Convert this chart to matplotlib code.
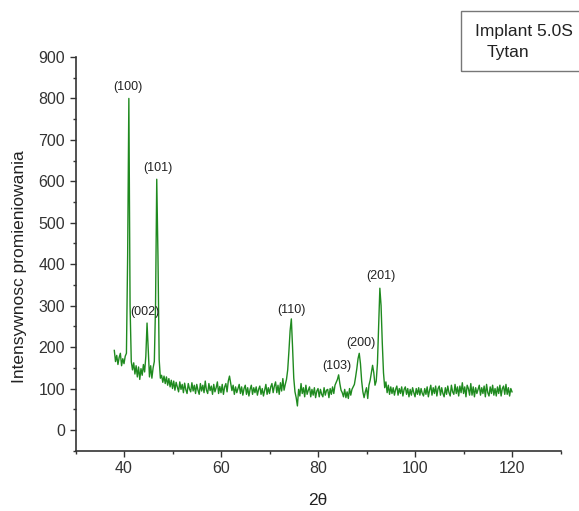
import numpy as np
import matplotlib
matplotlib.use("Agg")
import matplotlib.pyplot as plt
from matplotlib.patches import Rectangle
from matplotlib.ticker import MultipleLocator

plt.rcParams['font.family'] = ['Liberation Sans', 'DejaVu Sans']

# 2-theta sampling grid (degrees) and read-off intensities
two_theta_start = 38.0
two_theta_step = 0.25
intensity = [
    192, 165, 180, 158,  175, 185, 155, 172,  160, 178, 185, 420,
    800, 300, 165, 145,  162, 135, 155, 128,  152, 122, 148, 132,
    158, 140, 178, 258,  195, 128, 155, 125,  150, 165, 300, 605,
    420, 170, 125, 132,  115, 130, 112, 128,  108, 124, 104, 120,
    100, 118, 96, 115,   104, 92, 116, 98,    110, 90, 113, 97,
    88, 112, 99, 92,     114, 94, 108, 88,    110, 96, 86, 112,
    94, 108, 90, 118,    96, 88, 112, 95,     106, 86, 110, 92,
    102, 116, 88, 105,   90, 110, 86, 104,   112, 92, 118, 130,
    112, 95, 108, 86,    104, 90, 100, 110,   88, 104, 84, 100,
    108, 86, 102, 82,    98, 108, 86, 102,   90, 104, 84, 98,
    106, 86, 100, 82,    96, 110, 86, 102,   88, 104, 112, 90,
    106, 116, 90, 108,   86, 114, 94, 124,   96, 110, 122, 145,
    190, 240, 268, 200,  125, 92, 78, 58,     98, 82, 112, 88,
    102, 80, 108, 86,    96, 104, 80, 98,    84, 102, 78, 94,
    100, 80, 98, 86,     80, 102, 84, 96,    98, 78, 100, 86,
    104, 88, 108, 115,   122, 133, 112, 96,  90, 80, 98, 78,
    92, 76, 100, 84,     98, 104, 110, 128,  148, 172, 185, 160,
    118, 92, 78, 92,     102, 76, 108, 120,  138, 156, 138, 108,
    118, 160, 250, 342,  300, 210, 138, 102, 116, 90, 108, 86,
    104, 88, 102, 84,    98, 106, 84, 100,   88, 104, 82, 98,
    104, 86, 100, 80,    98, 84, 102, 90,    80, 100, 86, 102,
    84, 100, 88, 82,     100, 86, 104, 80,   96, 108, 84, 102,
    88, 106, 82, 100,    106, 84, 102, 88,   80, 102, 86, 106,
    90, 82, 108, 92,     86, 110, 88, 104,   82, 106, 90, 114,
    88, 104, 80, 108,    100, 84, 112, 84,   104, 80, 102, 88,
    98, 108, 84, 102,    88, 106, 80, 110,   90, 82, 104, 88,
    108, 84, 100, 82,    104, 88, 108, 82,   100, 106, 86, 110,
    86, 102, 82, 100,    92,
]
two_theta = two_theta_start + two_theta_step * np.arange(len(intensity))

# peak annotations (label centres)
peak_labels = ["(100)", "(101)", "(002)", "(110)", "(103)", "(200)", "(201)"]
peak_x = [40.8, 46.9, 44.4, 74.6, 83.9, 88.9, 93.0]
peak_y = [828, 632, 285, 290, 155, 210, 371]

x_ticks = [40, 60, 80, 100, 120]
y_ticks = [0, 100, 200, 300, 400, 500, 600, 700, 800, 900]

fig = plt.figure(figsize=(5.79, 5.11), dpi=100)
ax = fig.add_axes([0.1304, 0.118, 0.8377, 0.7705])

ax.plot(two_theta, intensity, color='#1f8a1f', lw=1.0)

for lab, px, py in zip(peak_labels, peak_x, peak_y):
    ax.text(px, py, lab, ha='center', va='center', fontsize=9, color='#222222')

ax.set_xlim(30, 130)
ax.set_ylim(-50, 900)
ax.set_xticks(x_ticks)
ax.set_yticks(y_ticks)
ax.xaxis.set_minor_locator(MultipleLocator(10))
ax.yaxis.set_minor_locator(MultipleLocator(50))
ax.tick_params(which='major', direction='out', length=4, width=1, labelsize=11.5, colors='#333333')
ax.tick_params(which='minor', direction='out', length=2.5, width=1, colors='#333333')
for s in ['top', 'right']:
    ax.spines[s].set_visible(False)
for s in ['left', 'bottom']:
    ax.spines[s].set_color('#333333')
    ax.spines[s].set_linewidth(1.2)

ax.set_xlabel('2θ', fontsize=12.5, labelpad=12, color='#222222')
ax.set_ylabel('Intensywnosc promieniowania', fontsize=12.5, color='#222222')
ax.yaxis.set_label_coords(-0.100, 0.467)

# legend box (clipped by the right figure edge)
fig.patches.append(Rectangle((461 / 579, 1 - 71 / 511), 0.25, 60 / 511,
                             transform=fig.transFigure, fill=False,
                             edgecolor='#777777', lw=1.0))
fig.text(475 / 579, 1 - 31 / 511, 'Implant 5.0S', fontsize=12.5, va='center', ha='left', color='#222222')
fig.text(487 / 579, 1 - 52 / 511, 'Tytan', fontsize=12.5, va='center', ha='left', color='#222222')

fig.savefig('out.png', dpi=100)
